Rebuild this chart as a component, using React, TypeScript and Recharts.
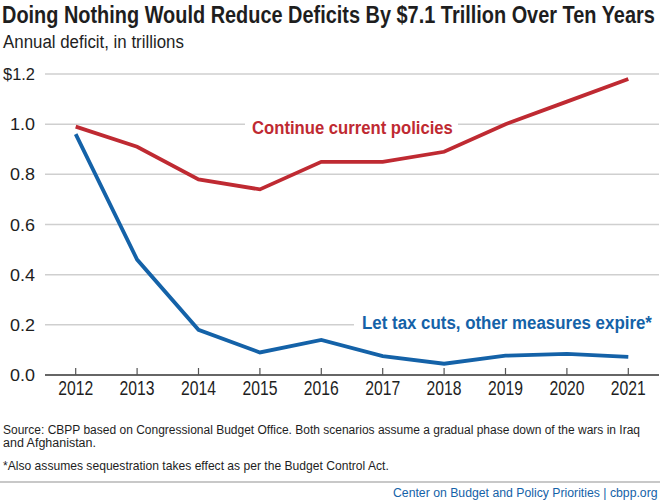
import { useLayoutEffect, useRef, useState } from 'react';
import { LineChart, Line, XAxis, YAxis, CartesianGrid } from 'recharts';

const years = [2012, 2013, 2014, 2015, 2016, 2017, 2018, 2019, 2020, 2021];
const currentPolicies = [0.99, 0.91, 0.78, 0.74, 0.85, 0.85, 0.89, 1.0, 1.09, 1.18];
const taxCutsExpire = [0.96, 0.46, 0.18, 0.09, 0.14, 0.075, 0.045, 0.077, 0.084, 0.072];
const yTicks = [0, 0.2, 0.4, 0.6, 0.8, 1.0, 1.2];

const RED = '#bf2a32';
const BLUE = '#1462a8';
const INK = '#1e1e1e';
const FONT = '"Liberation Sans", Arial, sans-serif';

const data = years.map((year, i) => ({
  year,
  current: currentPolicies[i],
  expire: taxCutsExpire[i],
}));

// text squeezed horizontally to a given width, to mimic the condensed face of the original
function Txt({ x, y, w, size, color = INK, bold = false, anchor = 'start', children }: any) {
  const ref = useRef<SVGTextElement>(null);
  const [sx, setSx] = useState(1);
  useLayoutEffect(() => {
    if (ref.current) {
      const natural = ref.current.getComputedTextLength();
      if (natural > 0) setSx(w / natural);
    }
  }, [w, size, children]);
  return (
    <g transform={`translate(${x},${y}) scale(${sx},1)`}>
      <text
        ref={ref}
        x={0}
        y={0}
        fontSize={size}
        fontWeight={bold ? 700 : 400}
        fill={color}
        fontFamily={FONT}
        textAnchor={anchor}
      >
        {children}
      </text>
    </g>
  );
}

function YearTick(props: any) {
  const { x, y, payload } = props;
  return (
    <g>
      <line x1={x} x2={x} y1={y - 7} y2={y} stroke="#555" strokeWidth={1.2} />
      <Txt x={x} y={y + 20} w={35} size={20} anchor="middle">
        {String(payload.value)}
      </Txt>
    </g>
  );
}

function ValueTick(props: any) {
  const { x, y, payload } = props;
  const v = payload.value;
  const label = v === 1.2 ? '$1.2' : v.toFixed(1);
  return (
    <Txt x={x} y={y + 6} w={v === 1.2 ? 32 : 25} size={17} anchor="end">
      {label}
    </Txt>
  );
}

export default function App() {
  return (
    <div
      style={{
        position: 'absolute',
        left: 0,
        top: 0,
        width: 660,
        height: 503,
        background: '#fff',
        overflow: 'hidden',
      }}
    >
      <div style={{ position: 'absolute', left: 0, top: 0 }}>
        <LineChart width={660} height={410} data={data} margin={{ top: 74, right: 1, bottom: 0, left: 0 }}>
          <CartesianGrid vertical={false} stroke="#cfcfcf" strokeWidth={1.5} />
          <XAxis
            dataKey="year"
            type="number"
            domain={[2011.5, 2021.5]}
            ticks={years}
            tickSize={0}
            tickMargin={0}
            tick={<YearTick />}
            axisLine={{ stroke: '#666', strokeWidth: 2 }}
            height={35}
          />
          <YAxis
            domain={[0, 1.2]}
            ticks={yTicks}
            width={45}
            axisLine={false}
            tickLine={false}
            tickSize={0}
            tickMargin={10}
            tick={<ValueTick />}
          />
          <Line dataKey="current" stroke={RED} strokeWidth={3.8} dot={false} isAnimationActive={false} />
          <Line dataKey="expire" stroke={BLUE} strokeWidth={3.8} dot={false} isAnimationActive={false} />
        </LineChart>
      </div>

      <svg width={660} height={503} style={{ position: 'absolute', left: 0, top: 0 }}>
        <Txt x={2} y={23} w={653} size={24} bold>
          Doing Nothing Would Reduce Deficits By $7.1 Trillion Over Ten Years
        </Txt>
        <Txt x={3} y={48} w={181} size={18}>
          Annual deficit, in trillions
        </Txt>

        <rect x={245} y={114} width={213} height={24} fill="#fff" />
        <Txt x={252} y={134} w={201} size={19} bold color={RED}>
          Continue current policies
        </Txt>
        <rect x={354} y={310} width={306} height={24} fill="#fff" />
        <Txt x={362} y={329} w={290} size={19} bold color={BLUE}>
          Let tax cuts, other measures expire*
        </Txt>

        <Txt x={3} y={434} w={637} size={12.5}>
          Source: CBPP based on Congressional Budget Office. Both scenarios assume a gradual phase down of the wars in Iraq
        </Txt>
        <Txt x={3} y={447} w={93} size={12.5}>
          and Afghanistan.
        </Txt>
        <Txt x={3} y={470} w={386} size={12.5}>
          *Also assumes sequestration takes effect as per the Budget Control Act.
        </Txt>
        <rect x={0} y={481} width={660} height={2} fill="#c8c8c8" />
        <Txt x={393} y={497} w={265} size={13.5} color={BLUE}>
          Center on Budget and Policy Priorities | cbpp.org
        </Txt>
      </svg>
    </div>
  );
}
